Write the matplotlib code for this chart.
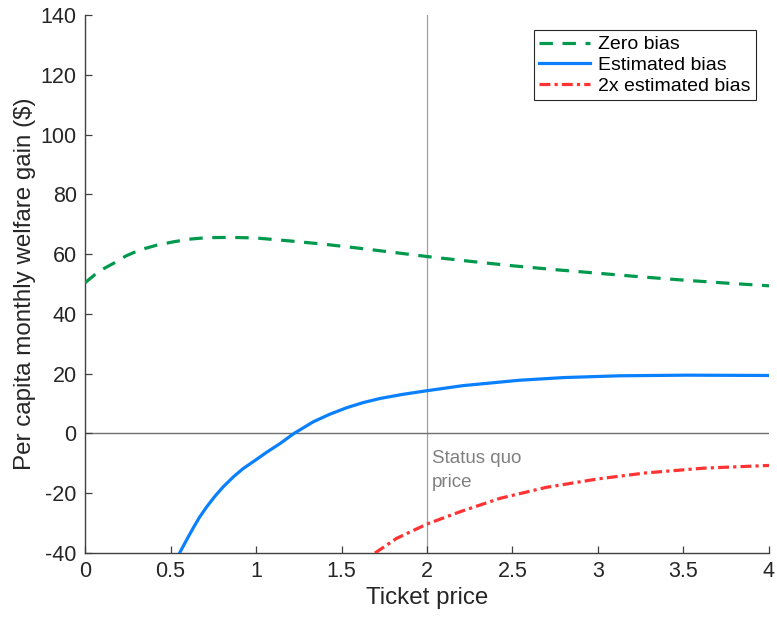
import matplotlib
matplotlib.use('Agg')
import matplotlib.pyplot as plt
from matplotlib.ticker import FormatStrFormatter

plt.rcParams['font.family'] = ['Liberation Sans', 'DejaVu Sans']
plt.rcParams['axes.unicode_minus'] = False

# welfare gain curves vs ticket price
price_zero = [0, 0.08, 0.166, 0.24, 0.32, 0.42, 0.516, 0.61, 0.711, 0.85, 1.0, 1.2,
              1.4, 1.6, 1.8, 2.0, 2.25, 2.5, 2.75, 3.0, 3.25, 3.5, 3.75, 4.0]
gain_zero = [50.4, 54.2, 56.9, 59.4, 61.4, 63.0, 64.1, 65.0, 65.5, 65.6, 65.4, 64.4,
             63.3, 62.0, 60.6, 59.2, 57.6, 56.1, 54.8, 53.6, 52.4, 51.3, 50.3, 49.4]

price_est = [0.553, 0.6, 0.633, 0.67, 0.711, 0.76, 0.809, 0.87, 0.926, 1.0, 1.062, 1.14,
             1.222, 1.335, 1.43, 1.53, 1.625, 1.725, 1.86, 2.0, 2.21, 2.54, 2.8, 3.13,
             3.52, 4.0]
gain_est = [-40, -35.0, -31.6, -28.0, -24.6, -21.0, -17.8, -14.4, -11.7, -8.8, -6.3, -3.4,
            0, 3.9, 6.4, 8.6, 10.3, 11.7, 13.1, 14.3, 16.0, 17.8, 18.7, 19.3,
            19.5, 19.4]

price_2x = [1.696, 1.822, 2.0, 2.193, 2.427, 2.7, 3.0, 3.28, 3.62, 4.0]
gain_2x = [-40, -35.1, -30.3, -26.2, -21.7, -18.0, -15.2, -13.2, -11.6, -10.7]

status_quo = 2.0

xticks = [0, 0.5, 1, 1.5, 2, 2.5, 3, 3.5, 4]
yticks = [-40, -20, 0, 20, 40, 60, 80, 100, 120, 140]

fig = plt.figure(figsize=(7.77, 6.22), dpi=100)
ax = fig.add_axes([0.1094, 0.1109, 0.8803, 0.865])

ax.axvline(status_quo, color='#a0a0a0', lw=0.9, zorder=1)
ax.axhline(0, color='#707070', lw=1.0, zorder=1)

ax.plot(price_zero, gain_zero, color='#00994d', lw=2.3, dashes=(4.2, 3.0),
        label='Zero bias', zorder=3)
ax.plot(price_est, gain_est, color='#0a80ff', lw=2.3, label='Estimated bias', zorder=3)
ax.plot(price_2x, gain_2x, color='#ff3333', lw=2.3, dashes=(3.4, 1.3, 1.0, 1.3),
        label='2x estimated bias', zorder=3)

ax.text(status_quo + 0.03, -5.5, 'Status quo\nprice', color='#808080', fontsize=13.5,
        va='top', ha='left', linespacing=1.55)

ax.set_xlim(0, 4)
ax.set_ylim(-40, 140)
ax.set_xticks(xticks)
ax.set_yticks(yticks)
ax.xaxis.set_major_formatter(FormatStrFormatter('%g'))
ax.yaxis.set_major_formatter(FormatStrFormatter('%g'))

for s in ['top', 'right']:
    ax.spines[s].set_visible(False)
for s in ['left', 'bottom']:
    ax.spines[s].set_color('#404040')
    ax.spines[s].set_linewidth(1.0)
ax.tick_params(direction='in', length=5, width=0.9, color='#404040',
               labelsize=15.5, labelcolor='#262626', pad=6)

ax.set_xlabel('Ticket price', fontsize=17.4, color='#262626', labelpad=3)
ax.set_ylabel('Per capita monthly welfare gain ($)', fontsize=17.4, color='#262626',
              labelpad=3)

leg = ax.legend(loc='upper right', bbox_to_anchor=(0.981, 0.972), fontsize=14,
                fancybox=False, framealpha=1, edgecolor='#262626', handlelength=2.6,
                handletextpad=0.4, borderpad=0.3, labelspacing=0.15, borderaxespad=0)
leg.get_frame().set_linewidth(0.8)

fig.savefig('out.png', dpi=100)
